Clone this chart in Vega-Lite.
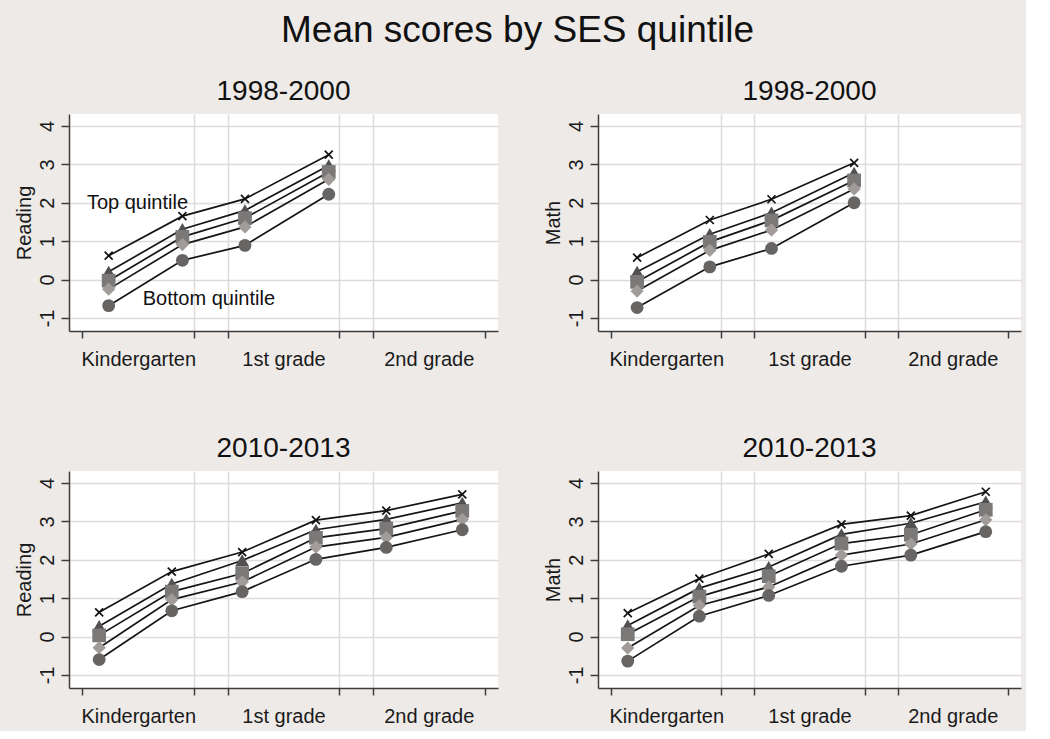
{
  "$schema": "https://vega.github.io/schema/vega-lite/v6.json",
  "background": "#EEEAE8",
  "padding": {"left": 14, "top": 12, "right": 5, "bottom": 5},
  "title": {"text": "Mean scores by SES quintile", "fontSize": 37, "font": "Liberation Sans", "fontWeight": "normal", "color": "#111111", "anchor": "middle", "baseline": "top", "offset": 28},
  "datasets": {
    "scores": [
      {"p": "TL", "q": 5, "x": 2.35, "score": 0.62}, {"p": "TL", "q": 5, "x": 8.95, "score": 1.65}, {"p": "TL", "q": 5, "x": 14.55, "score": 2.10}, {"p": "TL", "q": 5, "x": 22.05, "score": 3.25},
      {"p": "TL", "q": 4, "x": 2.35, "score": 0.20}, {"p": "TL", "q": 4, "x": 8.95, "score": 1.31}, {"p": "TL", "q": 4, "x": 14.55, "score": 1.80}, {"p": "TL", "q": 4, "x": 22.05, "score": 2.97},
      {"p": "TL", "q": 3, "x": 2.35, "score": -0.03}, {"p": "TL", "q": 3, "x": 8.95, "score": 1.11}, {"p": "TL", "q": 3, "x": 14.55, "score": 1.60}, {"p": "TL", "q": 3, "x": 22.05, "score": 2.80},
      {"p": "TL", "q": 2, "x": 2.35, "score": -0.25}, {"p": "TL", "q": 2, "x": 8.95, "score": 0.91}, {"p": "TL", "q": 2, "x": 14.55, "score": 1.37}, {"p": "TL", "q": 2, "x": 22.05, "score": 2.61},
      {"p": "TL", "q": 1, "x": 2.35, "score": -0.68}, {"p": "TL", "q": 1, "x": 8.95, "score": 0.50}, {"p": "TL", "q": 1, "x": 14.55, "score": 0.89}, {"p": "TL", "q": 1, "x": 22.05, "score": 2.22},
      {"p": "TR", "q": 5, "x": 2.35, "score": 0.57}, {"p": "TR", "q": 5, "x": 8.95, "score": 1.55}, {"p": "TR", "q": 5, "x": 14.55, "score": 2.09}, {"p": "TR", "q": 5, "x": 22.05, "score": 3.04},
      {"p": "TR", "q": 4, "x": 2.35, "score": 0.20}, {"p": "TR", "q": 4, "x": 8.95, "score": 1.18}, {"p": "TR", "q": 4, "x": 14.55, "score": 1.74}, {"p": "TR", "q": 4, "x": 22.05, "score": 2.78},
      {"p": "TR", "q": 3, "x": 2.35, "score": -0.06}, {"p": "TR", "q": 3, "x": 8.95, "score": 0.98}, {"p": "TR", "q": 3, "x": 14.55, "score": 1.54}, {"p": "TR", "q": 3, "x": 22.05, "score": 2.58},
      {"p": "TR", "q": 2, "x": 2.35, "score": -0.30}, {"p": "TR", "q": 2, "x": 8.95, "score": 0.76}, {"p": "TR", "q": 2, "x": 14.55, "score": 1.29}, {"p": "TR", "q": 2, "x": 22.05, "score": 2.36},
      {"p": "TR", "q": 1, "x": 2.35, "score": -0.73}, {"p": "TR", "q": 1, "x": 8.95, "score": 0.33}, {"p": "TR", "q": 1, "x": 14.55, "score": 0.81}, {"p": "TR", "q": 1, "x": 22.05, "score": 2.00},
      {"p": "BL", "q": 5, "x": 1.5, "score": 0.63}, {"p": "BL", "q": 5, "x": 8.0, "score": 1.69}, {"p": "BL", "q": 5, "x": 14.3, "score": 2.20}, {"p": "BL", "q": 5, "x": 20.9, "score": 3.03}, {"p": "BL", "q": 5, "x": 27.2, "score": 3.28}, {"p": "BL", "q": 5, "x": 34.0, "score": 3.70},
      {"p": "BL", "q": 4, "x": 1.5, "score": 0.27}, {"p": "BL", "q": 4, "x": 8.0, "score": 1.37}, {"p": "BL", "q": 4, "x": 14.3, "score": 1.98}, {"p": "BL", "q": 4, "x": 20.9, "score": 2.78}, {"p": "BL", "q": 4, "x": 27.2, "score": 3.05}, {"p": "BL", "q": 4, "x": 34.0, "score": 3.48},
      {"p": "BL", "q": 3, "x": 1.5, "score": 0.03}, {"p": "BL", "q": 3, "x": 8.0, "score": 1.17}, {"p": "BL", "q": 3, "x": 14.3, "score": 1.64}, {"p": "BL", "q": 3, "x": 20.9, "score": 2.57}, {"p": "BL", "q": 3, "x": 27.2, "score": 2.81}, {"p": "BL", "q": 3, "x": 34.0, "score": 3.27},
      {"p": "BL", "q": 2, "x": 1.5, "score": -0.29}, {"p": "BL", "q": 2, "x": 8.0, "score": 0.96}, {"p": "BL", "q": 2, "x": 14.3, "score": 1.42}, {"p": "BL", "q": 2, "x": 20.9, "score": 2.33}, {"p": "BL", "q": 2, "x": 27.2, "score": 2.58}, {"p": "BL", "q": 2, "x": 34.0, "score": 3.05},
      {"p": "BL", "q": 1, "x": 1.5, "score": -0.60}, {"p": "BL", "q": 1, "x": 8.0, "score": 0.67}, {"p": "BL", "q": 1, "x": 14.3, "score": 1.17}, {"p": "BL", "q": 1, "x": 20.9, "score": 2.01}, {"p": "BL", "q": 1, "x": 27.2, "score": 2.32}, {"p": "BL", "q": 1, "x": 34.0, "score": 2.78},
      {"p": "BR", "q": 5, "x": 1.5, "score": 0.61}, {"p": "BR", "q": 5, "x": 8.0, "score": 1.51}, {"p": "BR", "q": 5, "x": 14.3, "score": 2.15}, {"p": "BR", "q": 5, "x": 20.9, "score": 2.92}, {"p": "BR", "q": 5, "x": 27.2, "score": 3.15}, {"p": "BR", "q": 5, "x": 34.0, "score": 3.77},
      {"p": "BR", "q": 4, "x": 1.5, "score": 0.29}, {"p": "BR", "q": 4, "x": 8.0, "score": 1.26}, {"p": "BR", "q": 4, "x": 14.3, "score": 1.81}, {"p": "BR", "q": 4, "x": 20.9, "score": 2.66}, {"p": "BR", "q": 4, "x": 27.2, "score": 2.95}, {"p": "BR", "q": 4, "x": 34.0, "score": 3.51},
      {"p": "BR", "q": 3, "x": 1.5, "score": 0.06}, {"p": "BR", "q": 3, "x": 8.0, "score": 1.04}, {"p": "BR", "q": 3, "x": 14.3, "score": 1.57}, {"p": "BR", "q": 3, "x": 20.9, "score": 2.42}, {"p": "BR", "q": 3, "x": 27.2, "score": 2.65}, {"p": "BR", "q": 3, "x": 34.0, "score": 3.30},
      {"p": "BR", "q": 2, "x": 1.5, "score": -0.30}, {"p": "BR", "q": 2, "x": 8.0, "score": 0.81}, {"p": "BR", "q": 2, "x": 14.3, "score": 1.29}, {"p": "BR", "q": 2, "x": 20.9, "score": 2.12}, {"p": "BR", "q": 2, "x": 27.2, "score": 2.41}, {"p": "BR", "q": 2, "x": 34.0, "score": 3.04},
      {"p": "BR", "q": 1, "x": 1.5, "score": -0.64}, {"p": "BR", "q": 1, "x": 8.0, "score": 0.53}, {"p": "BR", "q": 1, "x": 14.3, "score": 1.07}, {"p": "BR", "q": 1, "x": 20.9, "score": 1.83}, {"p": "BR", "q": 1, "x": 27.2, "score": 2.12}, {"p": "BR", "q": 1, "x": 34.0, "score": 2.73}
    ],
    "notes": [
      {"x": 0.4, "score": 2.0, "label": "Top quintile"},
      {"x": 5.4, "score": -0.5, "label": "Bottom quintile"}
    ]
  },
  "vconcat": [
    {
      "hconcat": [
        {
          "title": {"text": "1998-2000"},
          "width": 429, "height": 217,
          "data": {"name": "scores"},
          "encoding": {
            "x": {"field": "x", "type": "quantitative", "scale": {"domain": [-1.2, 37.2], "nice": false, "zero": false},
              "axis": {"title": null, "values": [0, 5, 10, 13, 18, 23, 26, 31, 36], "labelExpr": "datum.value == 5 ? 'Kindergarten' : datum.value == 18 ? '1st grade' : datum.value == 31 ? '2nd grade' : ''",
                "tickOpacity": {"condition": {"test": "datum.value == 5 || datum.value == 18 || datum.value == 31", "value": 0}, "value": 1},
                "gridOpacity": {"condition": {"test": "datum.value == 10 || datum.value == 13 || datum.value == 23 || datum.value == 26", "value": 1}, "value": 0}}},
            "y": {"field": "score", "type": "quantitative", "scale": {"domain": [-1.34, 4.31], "nice": false, "zero": false},
              "axis": {"title": "Reading", "values": [-1, 0, 1, 2, 3, 4], "labelExpr": "toString(datum.value)"}}
          },
          "layer": [
            {"transform": [{"filter": "datum.p == 'TL'"}], "mark": {"type": "line", "color": "#151515", "strokeWidth": 1.7}, "encoding": {"detail": {"field": "q", "type": "nominal"}}},
            {"transform": [{"filter": "datum.p == 'TL' && datum.q < 5"}], "mark": {"type": "point", "filled": true, "opacity": 1},
              "encoding": {"shape": {"field": "q", "type": "nominal", "scale": {"domain": [1, 2, 3, 4], "range": ["circle", "diamond", "square", "triangle-up"]}, "legend": null},
                "size": {"field": "q", "type": "ordinal", "scale": {"domain": [1, 2, 3, 4], "range": [165, 200, 145, 235]}, "legend": null},
                "color": {"field": "q", "type": "nominal", "scale": {"domain": [1, 2, 3, 4], "range": ["#676464", "#a19c9a", "#7b7878", "#525050"]}, "legend": null}}},
            {"transform": [{"filter": "datum.p == 'TL' && datum.q == 5"}], "mark": {"type": "point", "shape": "M-1,-1L1,1M-1,1L1,-1", "filled": false, "stroke": "#111111", "strokeWidth": 1.7, "opacity": 1, "size": 64}},
            {"data": {"name": "notes"}, "mark": {"type": "text", "align": "left", "baseline": "middle", "fontSize": 20, "font": "Liberation Sans", "color": "#111111"}, "encoding": {"text": {"field": "label"}}}
          ]
        },
        {
          "title": {"text": "1998-2000"},
          "width": 423, "height": 217,
          "data": {"name": "scores"},
          "encoding": {
            "x": {"field": "x", "type": "quantitative", "scale": {"domain": [-1.2, 37.2], "nice": false, "zero": false},
              "axis": {"title": null, "values": [0, 5, 10, 13, 18, 23, 26, 31, 36], "labelExpr": "datum.value == 5 ? 'Kindergarten' : datum.value == 18 ? '1st grade' : datum.value == 31 ? '2nd grade' : ''",
                "tickOpacity": {"condition": {"test": "datum.value == 5 || datum.value == 18 || datum.value == 31", "value": 0}, "value": 1},
                "gridOpacity": {"condition": {"test": "datum.value == 10 || datum.value == 13 || datum.value == 23 || datum.value == 26", "value": 1}, "value": 0}}},
            "y": {"field": "score", "type": "quantitative", "scale": {"domain": [-1.34, 4.31], "nice": false, "zero": false},
              "axis": {"title": "Math", "values": [-1, 0, 1, 2, 3, 4], "labelExpr": "toString(datum.value)"}}
          },
          "layer": [
            {"transform": [{"filter": "datum.p == 'TR'"}], "mark": {"type": "line", "color": "#151515", "strokeWidth": 1.7}, "encoding": {"detail": {"field": "q", "type": "nominal"}}},
            {"transform": [{"filter": "datum.p == 'TR' && datum.q < 5"}], "mark": {"type": "point", "filled": true, "opacity": 1},
              "encoding": {"shape": {"field": "q", "type": "nominal", "scale": {"domain": [1, 2, 3, 4], "range": ["circle", "diamond", "square", "triangle-up"]}, "legend": null},
                "size": {"field": "q", "type": "ordinal", "scale": {"domain": [1, 2, 3, 4], "range": [165, 200, 145, 235]}, "legend": null},
                "color": {"field": "q", "type": "nominal", "scale": {"domain": [1, 2, 3, 4], "range": ["#676464", "#a19c9a", "#7b7878", "#525050"]}, "legend": null}}},
            {"transform": [{"filter": "datum.p == 'TR' && datum.q == 5"}], "mark": {"type": "point", "shape": "M-1,-1L1,1M-1,1L1,-1", "filled": false, "stroke": "#111111", "strokeWidth": 1.7, "opacity": 1, "size": 64}}
          ]
        }
      ],
      "spacing": 45
    },
    {
      "hconcat": [
        {
          "title": {"text": "2010-2013"},
          "width": 429, "height": 217,
          "data": {"name": "scores"},
          "encoding": {
            "x": {"field": "x", "type": "quantitative", "scale": {"domain": [-1.2, 37.2], "nice": false, "zero": false},
              "axis": {"title": null, "values": [0, 5, 10, 13, 18, 23, 26, 31, 36], "labelExpr": "datum.value == 5 ? 'Kindergarten' : datum.value == 18 ? '1st grade' : datum.value == 31 ? '2nd grade' : ''",
                "tickOpacity": {"condition": {"test": "datum.value == 5 || datum.value == 18 || datum.value == 31", "value": 0}, "value": 1},
                "gridOpacity": {"condition": {"test": "datum.value == 10 || datum.value == 13 || datum.value == 23 || datum.value == 26", "value": 1}, "value": 0}}},
            "y": {"field": "score", "type": "quantitative", "scale": {"domain": [-1.34, 4.31], "nice": false, "zero": false},
              "axis": {"title": "Reading", "values": [-1, 0, 1, 2, 3, 4], "labelExpr": "toString(datum.value)"}}
          },
          "layer": [
            {"transform": [{"filter": "datum.p == 'BL'"}], "mark": {"type": "line", "color": "#151515", "strokeWidth": 1.7}, "encoding": {"detail": {"field": "q", "type": "nominal"}}},
            {"transform": [{"filter": "datum.p == 'BL' && datum.q < 5"}], "mark": {"type": "point", "filled": true, "opacity": 1},
              "encoding": {"shape": {"field": "q", "type": "nominal", "scale": {"domain": [1, 2, 3, 4], "range": ["circle", "diamond", "square", "triangle-up"]}, "legend": null},
                "size": {"field": "q", "type": "ordinal", "scale": {"domain": [1, 2, 3, 4], "range": [165, 200, 145, 235]}, "legend": null},
                "color": {"field": "q", "type": "nominal", "scale": {"domain": [1, 2, 3, 4], "range": ["#676464", "#a19c9a", "#7b7878", "#525050"]}, "legend": null}}},
            {"transform": [{"filter": "datum.p == 'BL' && datum.q == 5"}], "mark": {"type": "point", "shape": "M-1,-1L1,1M-1,1L1,-1", "filled": false, "stroke": "#111111", "strokeWidth": 1.7, "opacity": 1, "size": 64}}
          ]
        },
        {
          "title": {"text": "2010-2013"},
          "width": 423, "height": 217,
          "data": {"name": "scores"},
          "encoding": {
            "x": {"field": "x", "type": "quantitative", "scale": {"domain": [-1.2, 37.2], "nice": false, "zero": false},
              "axis": {"title": null, "values": [0, 5, 10, 13, 18, 23, 26, 31, 36], "labelExpr": "datum.value == 5 ? 'Kindergarten' : datum.value == 18 ? '1st grade' : datum.value == 31 ? '2nd grade' : ''",
                "tickOpacity": {"condition": {"test": "datum.value == 5 || datum.value == 18 || datum.value == 31", "value": 0}, "value": 1},
                "gridOpacity": {"condition": {"test": "datum.value == 10 || datum.value == 13 || datum.value == 23 || datum.value == 26", "value": 1}, "value": 0}}},
            "y": {"field": "score", "type": "quantitative", "scale": {"domain": [-1.34, 4.31], "nice": false, "zero": false},
              "axis": {"title": "Math", "values": [-1, 0, 1, 2, 3, 4], "labelExpr": "toString(datum.value)"}}
          },
          "layer": [
            {"transform": [{"filter": "datum.p == 'BR'"}], "mark": {"type": "line", "color": "#151515", "strokeWidth": 1.7}, "encoding": {"detail": {"field": "q", "type": "nominal"}}},
            {"transform": [{"filter": "datum.p == 'BR' && datum.q < 5"}], "mark": {"type": "point", "filled": true, "opacity": 1},
              "encoding": {"shape": {"field": "q", "type": "nominal", "scale": {"domain": [1, 2, 3, 4], "range": ["circle", "diamond", "square", "triangle-up"]}, "legend": null},
                "size": {"field": "q", "type": "ordinal", "scale": {"domain": [1, 2, 3, 4], "range": [165, 200, 145, 235]}, "legend": null},
                "color": {"field": "q", "type": "nominal", "scale": {"domain": [1, 2, 3, 4], "range": ["#676464", "#a19c9a", "#7b7878", "#525050"]}, "legend": null}}},
            {"transform": [{"filter": "datum.p == 'BR' && datum.q == 5"}], "mark": {"type": "point", "shape": "M-1,-1L1,1M-1,1L1,-1", "filled": false, "stroke": "#111111", "strokeWidth": 1.7, "opacity": 1, "size": 64}}
          ]
        }
      ],
      "spacing": 45
    }
  ],
  "spacing": 66,
  "config": {
    "concat": {"spacing": 45},
    "view": {"fill": "white", "stroke": null},
    "font": "Liberation Sans",
    "title": {"fontSize": 28, "font": "Liberation Sans", "fontWeight": "normal", "color": "#111111", "anchor": "middle", "baseline": "alphabetic", "offset": 8},
    "axis": {
      "domainColor": "#3c3c3c", "domainWidth": 1.5, "tickColor": "#3c3c3c", "tickWidth": 1.5,
      "labelFont": "Liberation Sans", "labelFontSize": 20, "labelColor": "#1a1a1a",
      "titleFont": "Liberation Sans", "titleFontSize": 20, "titleFontWeight": "normal", "titleColor": "#1a1a1a",
      "gridColor": "#DEDBDA", "gridWidth": 1.5, "labelOverlap": false, "labelFlush": false, "labelBound": false
    },
    "axisX": {"tickSize": 7, "labelPadding": 11},
    "axisY": {"tickSize": 8, "labelPadding": 4, "labelAngle": -90, "labelAlign": "center", "labelBaseline": "bottom", "titlePadding": 3}
  }
}
